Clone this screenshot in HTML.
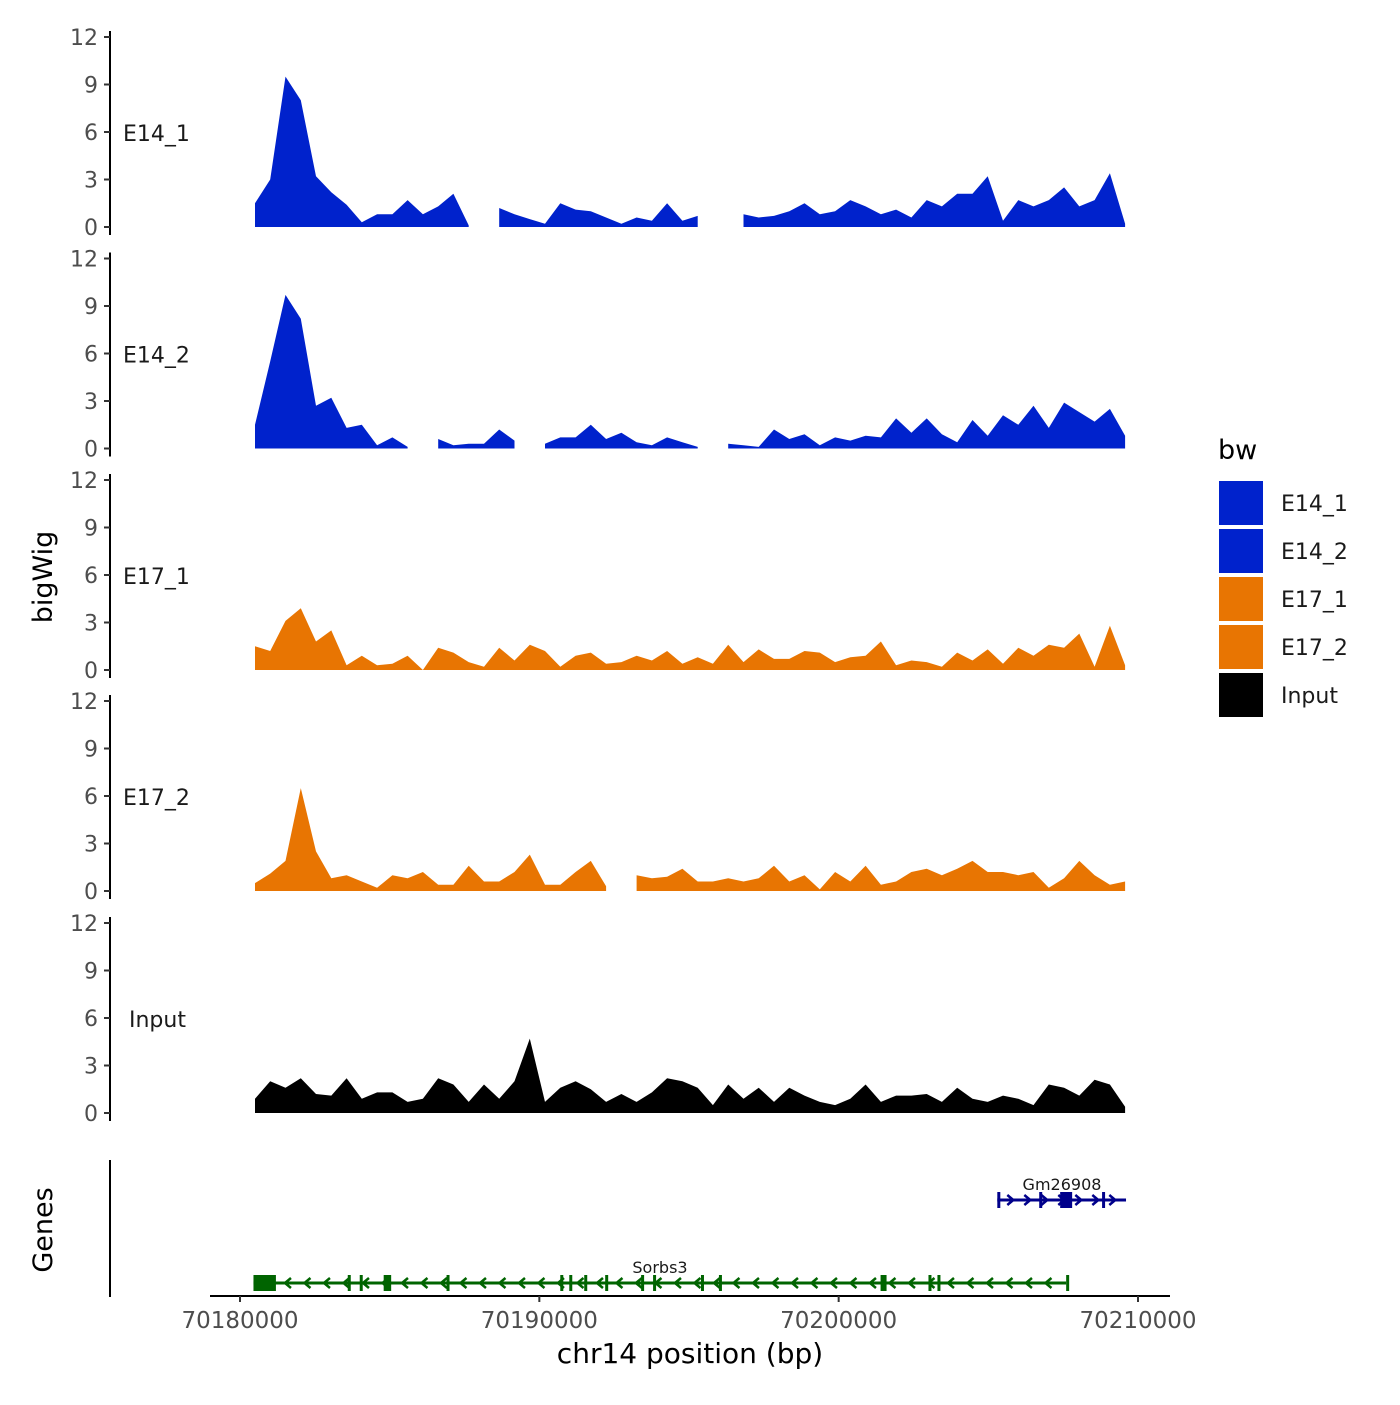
<!DOCTYPE html>
<html><head><meta charset="utf-8"><style>
body{margin:0;background:#fff}
svg text{font-family:"DejaVu Sans","Liberation Sans",sans-serif}
</style></head><body>
<svg id="chart" width="1400" height="1400" viewBox="0 0 1400 1400" xmlns="http://www.w3.org/2000/svg">
<rect width="1400" height="1400" fill="#fff"/>
<g id="panels"></g>
<g id="genes"></g>
<g id="axes"></g>
</svg>
<script>
// ---- data ----
const binStart = 70180500;
const binWidth = 510;
const trackNames = ["E14_1","E14_2","E17_1","E17_2","Input"];
const yTicks = [0,3,6,9,12];
const xTicks = [70180000,70190000,70200000,70210000];
const xTickLabels = ["70180000","70190000","70200000","70210000"];
const e14_1 = [1.5,3.0,9.5,8.0,3.2,2.2,1.4,0.3,0.8,0.8,1.7,0.8,1.3,2.1,0.1,null,1.2,0.8,0.5,0.2,1.5,1.1,1.0,0.6,0.2,0.6,0.4,1.5,0.4,0.7,null,null,0.8,0.6,0.7,1.0,1.5,0.8,1.0,1.7,1.3,0.8,1.1,0.6,1.7,1.3,2.1,2.1,3.2,0.4,1.7,1.3,1.7,2.5,1.3,1.7,3.4,0.2];
const e14_2 = [1.5,5.5,9.7,8.2,2.7,3.2,1.3,1.5,0.2,0.7,0.1,null,0.6,0.2,0.3,0.3,1.2,0.5,null,0.3,0.7,0.7,1.5,0.6,1.0,0.4,0.2,0.7,0.4,0.1,null,0.3,0.2,0.1,1.2,0.6,0.9,0.2,0.7,0.5,0.8,0.7,1.9,1.0,1.9,0.9,0.4,1.8,0.8,2.1,1.5,2.7,1.3,2.9,2.3,1.7,2.5,0.8];
const e17_1 = [1.5,1.2,3.1,3.9,1.8,2.5,0.3,0.9,0.3,0.4,0.9,0.0,1.4,1.1,0.5,0.2,1.4,0.6,1.6,1.2,0.2,0.9,1.1,0.4,0.5,0.9,0.6,1.2,0.4,0.8,0.4,1.6,0.5,1.3,0.7,0.7,1.2,1.1,0.5,0.8,0.9,1.8,0.3,0.6,0.5,0.2,1.1,0.6,1.3,0.4,1.4,0.9,1.6,1.4,2.3,0.2,2.8,0.3];
const e17_2 = [0.5,1.1,1.9,6.5,2.5,0.8,1.0,0.6,0.2,1.0,0.8,1.2,0.4,0.4,1.6,0.6,0.6,1.2,2.3,0.4,0.4,1.2,1.9,0.3,null,1.0,0.8,0.9,1.4,0.6,0.6,0.8,0.6,0.8,1.6,0.6,1.0,0.1,1.2,0.6,1.6,0.4,0.6,1.2,1.4,1.0,1.4,1.9,1.2,1.2,1.0,1.2,0.2,0.8,1.9,1.0,0.4,0.6];
const input = [0.9,2.0,1.6,2.2,1.2,1.1,2.2,0.9,1.3,1.3,0.7,0.9,2.2,1.8,0.7,1.8,0.9,2.0,4.7,0.7,1.6,2.0,1.5,0.7,1.2,0.7,1.3,2.2,2.0,1.6,0.5,1.8,0.9,1.6,0.7,1.6,1.1,0.7,0.5,0.9,1.8,0.7,1.1,1.1,1.2,0.7,1.6,0.9,0.7,1.1,0.9,0.5,1.8,1.6,1.1,2.1,1.8,0.4];
const seriesValues = [e14_1,e14_2,e17_1,e17_2,input];
const seriesColors = ["#0022CC","#0022CC","#E87502","#E87502","#000000"];
const legendLabels = ["E14_1","E14_2","E17_1","E17_2","Input"];
// genes
const sorbs3Start = 70180450, sorbs3End = 70207600;
const sorbs3Exons = [[70180450,70181200],[70184800,70185050],[70183600,70183650],[70184000,70184050],[70186900,70186950],[70190700,70190750],[70191000,70191050],[70191500,70191600],[70192200,70192250],[70193400,70193450],[70193800,70193850],[70195400,70195450],[70196000,70196050],[70201400,70201600],[70203000,70203050],[70203300,70203350],[70207600,70207650]];
const gmStart = 70205300, gmEnd = 70209600;
const gmExons = [[70205300,70205350],[70206700,70206750],[70207400,70207800],[70208800,70208850]];

// ---- scales ----
const NS="http://www.w3.org/2000/svg";
const xScale = p => 240 + (p - 70180000) * (898/30000);
const panelBase = [227,448.5,670,891,1113];
const pxPerUnit = 190/12;
function mk(tag, attrs, parent){const e=document.createElementNS(NS,tag);for(const k in attrs)e.setAttribute(k,attrs[k]);parent.appendChild(e);return e;}
const panels=document.getElementById('panels');
const axes=document.getElementById('axes');
const genes=document.getElementById('genes');

seriesValues.forEach((vals,si)=>{
  const base=panelBase[si];
  const yS=v=>base - v*pxPerUnit;
  const g=mk('g',{},panels);
  
  
  let seg=[];
  const flush=()=>{
    if(seg.length){
      let d='M'+xScale(seg[0][0]).toFixed(1)+','+base;
      seg.forEach(([p,v])=>{d+=' L'+xScale(p).toFixed(1)+','+yS(v).toFixed(1);});
      d+=' L'+xScale(seg[seg.length-1][0]).toFixed(1)+','+base+' Z';
      const a=mk('path',{d:d,fill:seriesColors[si]},g);
      
      
    }
    seg=[];
  };
  vals.forEach((v,i)=>{ if(v===null){flush();} else seg.push([binStart+i*binWidth,v]); });
  flush();
  const ax=mk('g',{},axes);
  
  
  mk('line',{x1:110,x2:110,y1:yS(12)-6,y2:base+8,stroke:'#000','stroke-width':2},ax);
  yTicks.forEach(t=>{
    mk('line',{x1:104,x2:110,y1:yS(t),y2:yS(t),stroke:'#333','stroke-width':2},ax);
    const tx=mk('text',{x:98,y:yS(t)+8,'text-anchor':'end','font-size':22,fill:'#4d4d4d'},ax);
    tx.textContent=t;
    
    
  });
  const lab=mk('text',{x:si===4?129:123,y:yS(6)+9,'font-size':22,fill:'#1a1a1a'},ax);
  lab.textContent=trackNames[si];
  
  
});

const yt=mk('text',{x:52,y:577,'text-anchor':'middle','font-size':27,transform:'rotate(-90 52 577)'},axes);
yt.textContent='bigWig';


const gt=mk('text',{x:52,y:1230,'text-anchor':'middle','font-size':27,transform:'rotate(-90 52 1230)'},axes);
gt.textContent='Genes';


mk('line',{x1:110,x2:110,y1:1160,y2:1297,stroke:'#000','stroke-width':2},axes);

const xa=mk('g',{},axes);


mk('line',{x1:210,x2:1170,y1:1296,y2:1296,stroke:'#000','stroke-width':2},xa);
xTicks.forEach((t,i)=>{
  mk('line',{x1:xScale(t),x2:xScale(t),y1:1296,y2:1302,stroke:'#333','stroke-width':2},xa);
  const tx=mk('text',{x:xScale(t),y:1328,'text-anchor':'middle','font-size':23,fill:'#4d4d4d'},xa);
  tx.textContent=xTickLabels[i];
  
  
});
const xt=mk('text',{x:690,y:1363,'text-anchor':'middle','font-size':28},xa);
xt.textContent='chr14 position (bp)';



function drawGene(name,start,end,exons,y,color,dir,labelX){
  const g=mk('g',{},genes);
  
  
  const x1=xScale(start),x2=xScale(end);
  mk('line',{x1:x1,x2:x2,y1:y,y2:y,stroke:color,'stroke-width':3},g);
  for(let x=x1+14;x<x2-2;x+=dir<0?19.5:17){
    const d=dir<0?`M${x+4},${y-5} L${x-2},${y} L${x+4},${y+5}`:`M${x-4},${y-5} L${x+2},${y} L${x-4},${y+5}`;
    mk('path',{d:d,stroke:color,'stroke-width':2.5,fill:'none'},g);
  }
  exons.forEach(([s,e])=>{
    const w=Math.max(3,xScale(e)-xScale(s));
    mk('rect',{x:xScale(s),y:y-8,width:w,height:16,fill:color},g);
  });
  const t=mk('text',{x:labelX,y:y-10,'text-anchor':'middle','font-size':16,fill:'#1a1a1a'},g);
  t.textContent=name;
}
drawGene('Sorbs3',sorbs3Start,sorbs3End,sorbs3Exons,1283,'#006400',-1,660);
drawGene('Gm26908',gmStart,gmEnd,gmExons,1200,'#00008B',1,1062);

const lg=mk('g',{},axes);


const lt=mk('text',{x:1218,y:459,'font-size':27},lg);
lt.textContent='bw';
legendLabels.forEach((l,i)=>{
  const r=mk('rect',{x:1219,y:481+i*48,width:44,height:44,fill:seriesColors[i]},lg);
  
  
  const t=mk('text',{x:1281,y:511+i*48,'font-size':22,fill:'#1a1a1a'},lg);
  t.textContent=l;
  
  
});
</script>
</body></html>
